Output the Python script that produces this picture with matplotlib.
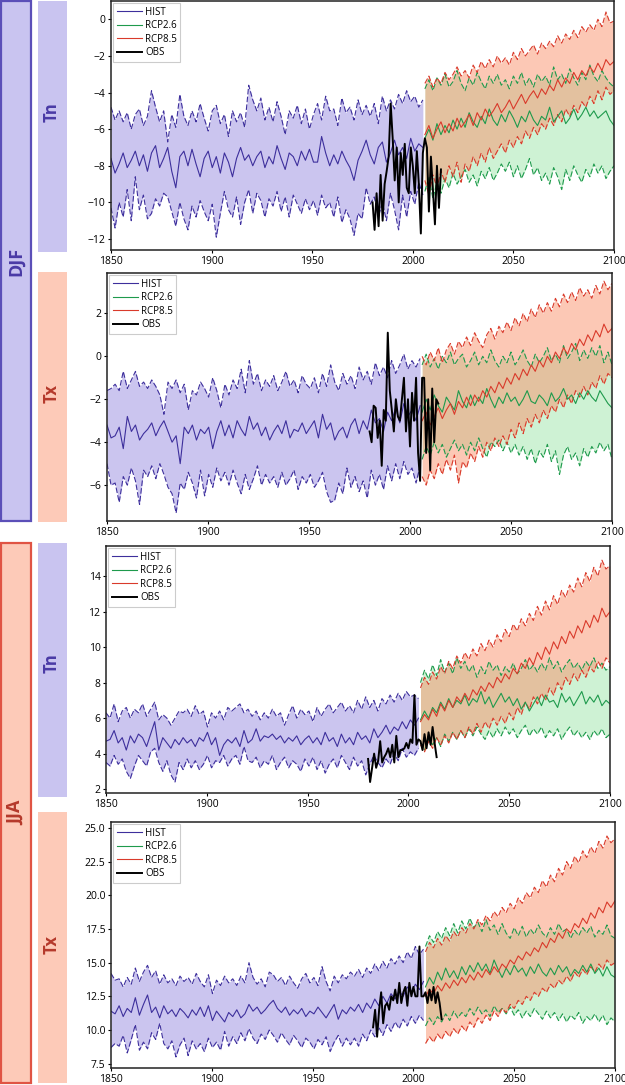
import numpy as np
import matplotlib.pyplot as plt
from matplotlib.patches import Rectangle

plt.rcParams['font.family'] = ['Open Sans', 'DejaVu Sans']

# ---------------- data (HIST / RCP every ~2 years, OBS yearly) ----------------
# panel 1: DJF Tn
djf_tn_hist_mean = [-7.6, -8.4, -7.9, -7.3, -8.1, -7.7, -7.2, -8.0, -7.4, -8.3,
                    -7.3, -6.9, -8.1, -7.6, -7.0, -8.3, -9.2, -7.5, -7.2, -8.0,
                    -7.1, -7.9, -8.6, -7.6, -7.2, -8.1, -7.5, -8.4, -7.3, -7.8,
                    -8.6, -7.6, -7.0, -7.7, -7.4, -8.0, -7.5, -7.2, -8.1, -7.5,
                    -7.9, -6.9, -7.6, -8.2, -7.3, -7.5, -8.0, -7.2, -7.7, -7.1,
                    -7.8, -7.8, -6.4, -7.3, -8.0, -7.4, -7.9, -7.2, -7.7, -8.1,
                    -8.8, -7.7, -7.2, -6.6, -7.4, -7.9, -7.0, -6.7, -7.8, -7.3,
                    -6.6, -7.4, -7.0, -7.6, -6.5, -7.2, -6.8, -7.0]
djf_tn_hist_hi = [-4.8, -5.5, -5.0, -5.6, -5.1, -6.0, -5.2, -4.9, -5.8, -5.3,
                  -3.9, -4.8, -5.6, -5.0, -6.7, -5.2, -5.9, -4.1, -5.3, -5.8,
                  -5.0, -5.6, -4.6, -5.4, -6.1, -5.0, -4.7, -5.7, -5.2, -6.4,
                  -5.0, -5.6, -5.1, -5.9, -3.6, -4.4, -5.0, -4.3, -5.5, -4.8,
                  -5.6, -4.5, -5.3, -6.3, -5.0, -5.4, -4.7, -5.7, -4.9, -6.0,
                  -5.2, -4.6, -5.5, -4.2, -5.0, -4.9, -5.8, -4.3, -5.1, -4.8,
                  -5.5, -4.4, -5.2, -4.7, -5.3, -4.6, -5.7, -4.2, -5.0, -4.4,
                  -4.9, -4.1, -4.6, -3.9, -4.5, -4.2, -4.8, -4.4]
djf_tn_hist_lo = [-10.3, -11.4, -10.0, -10.8, -9.3, -11.0, -8.6, -10.4, -9.6, -10.9,
                  -10.6, -9.8, -10.2, -9.5, -9.7, -10.5, -11.3, -10.0, -10.9, -11.5,
                  -10.2, -10.8, -9.9, -10.5, -11.0, -10.1, -11.9, -10.6, -9.4, -10.4,
                  -10.8, -9.7, -11.2, -10.0, -9.3, -10.6, -9.5, -9.9, -10.8, -9.8,
                  -10.2, -9.4, -10.5, -9.7, -10.8, -9.6, -10.1, -10.6, -9.8, -10.4,
                  -9.9, -10.7, -9.6, -10.3, -10.0, -10.8, -9.7, -11.1, -10.4, -10.9,
                  -11.8, -10.6, -10.9, -9.2, -10.1, -9.7, -10.8, -10.0, -11.0, -9.5,
                  -10.4, -11.5, -9.6, -10.8, -9.4, -10.1, -8.9, -9.6]
djf_tn_r26_mean = [-6.5, -6.0, -6.6, -5.7, -6.3, -5.8, -6.2, -5.5, -6.0, -5.4,
                   -5.9, -5.1, -5.6, -5.9, -5.3, -5.7, -4.9, -5.5, -5.8, -5.2,
                   -5.6, -5.0, -5.4, -5.9, -5.3, -5.6, -5.0, -5.5, -5.8, -5.3,
                   -5.5, -4.8, -5.6, -5.3, -5.0, -5.7, -5.4, -4.9, -5.5, -5.2,
                   -4.8, -5.3, -5.0, -5.4, -5.2, -5.0, -5.5, -5.8]
djf_tn_r26_hi = [-3.8, -3.3, -3.9, -3.2, -3.6, -3.0, -3.7, -3.4, -2.8, -3.5,
                 -3.9, -3.2, -3.6, -2.9, -3.4, -3.8, -3.1, -3.5, -3.0, -3.6,
                 -3.3, -3.8, -3.1, -3.5, -2.9, -3.6, -3.2, -3.7, -3.0, -3.4,
                 -3.1, -3.6, -2.6, -3.3, -3.0, -3.5, -2.7, -3.2, -3.6, -2.9,
                 -3.3, -2.5, -3.1, -3.4, -2.8, -3.2, -3.5, -3.7]
djf_tn_r26_lo = [-9.4, -8.6, -9.8, -8.9, -9.5, -8.7, -9.2, -8.4, -9.0, -8.6,
                 -8.2, -8.9, -8.5, -9.1, -8.3, -8.7, -8.1, -8.8, -8.4, -7.9,
                 -8.3, -7.8, -8.6, -8.0, -8.7, -8.2, -7.6, -8.5, -8.1, -8.8,
                 -8.4, -9.0, -8.1, -8.6, -9.3, -8.2, -8.8, -8.0, -8.5, -8.9,
                 -8.2, -8.6, -7.9, -8.4, -8.0, -8.7, -8.3, -8.0]
djf_tn_r85_mean = [-6.3, -5.8, -6.5, -6.0, -5.6, -6.2, -5.7, -6.1, -5.4, -5.9,
                   -5.6, -5.2, -5.8, -5.1, -5.5, -4.9, -5.3, -5.0, -4.6, -5.1,
                   -4.8, -4.4, -4.9, -4.5, -4.1, -4.6, -4.2, -3.9, -4.3, -3.8,
                   -4.1, -3.6, -3.9, -3.3, -3.7, -3.2, -3.5, -2.9, -3.3, -2.8,
                   -3.1, -2.6, -2.9, -2.4, -2.8, -2.2, -2.5, -2.3]
djf_tn_r85_hi = [-3.5, -3.1, -3.7, -3.2, -3.5, -2.9, -3.3, -3.0, -2.6, -3.1,
                 -2.8, -3.2, -2.5, -2.9, -2.3, -2.7, -2.2, -2.6, -2.0, -2.4,
                 -2.1, -2.5, -1.8, -2.2, -1.6, -2.0, -1.7, -1.4, -1.9, -1.3,
                 -1.6, -1.2, -1.5, -0.9, -1.3, -0.8, -1.1, -0.6, -1.0, -0.4,
                 -0.7, -0.3, -0.6, 0.0, -0.4, 0.4, -0.2, -0.1]
djf_tn_r85_lo = [-8.8, -9.6, -8.5, -9.2, -8.3, -8.9, -8.0, -8.6, -7.8, -8.9,
                 -7.9, -8.3, -7.5, -8.0, -7.3, -7.8, -7.0, -7.6, -7.2, -6.8,
                 -7.3, -6.6, -7.0, -6.4, -6.8, -6.1, -6.5, -5.9, -6.3, -5.7,
                 -6.0, -5.4, -5.8, -5.2, -5.6, -4.9, -5.3, -4.7, -5.1, -4.5,
                 -4.8, -4.2, -4.6, -3.9, -4.4, -3.7, -4.1, -3.9]
djf_tn_obs = [-10.0, -11.5, -9.5, -11.3, -8.5, -11.0, -9.0, -8.3, -7.5, -4.6,
              -6.5, -8.8, -7.0, -10.0, -7.3, -8.5, -6.8, -9.2, -9.5, -7.0,
              -8.0, -9.5, -7.2, -9.0, -11.7, -7.3, -6.5, -7.0, -10.5, -7.5,
              -9.3, -11.2, -8.0, -10.3, -8.2]

# panel 2: DJF Tx
djf_tx_hist_mean = [-3.2, -3.8, -3.7, -3.3, -4.3, -2.8, -3.5, -3.2, -3.9, -3.6,
                    -3.4, -3.1, -3.7, -3.3, -3.0, -3.5, -4.0, -3.7, -5.0, -3.3,
                    -3.6, -3.2, -3.9, -3.4, -3.6, -3.3, -4.3, -3.5, -3.0, -3.7,
                    -3.2, -3.8, -3.0, -3.4, -3.7, -2.8, -3.4, -3.1, -3.7, -3.3,
                    -3.9, -3.5, -3.2, -3.6, -3.0, -3.8, -3.4, -3.5, -3.1, -3.6,
                    -3.3, -3.0, -3.8, -2.7, -3.4, -3.1, -3.9, -3.5, -3.3, -3.8,
                    -3.2, -2.9, -3.6, -3.0, -3.4, -2.5, -3.1, -2.9, -3.5, -2.6,
                    -3.0, -2.4, -3.1, -2.2, -2.8, -2.5, -3.0, -2.3]
djf_tx_hist_hi = [-1.6, -1.5, -1.3, -1.6, -0.7, -1.5, -1.1, -0.7, -1.4, -1.2,
                  -1.5, -1.1, -1.4, -1.8, -2.7, -1.2, -1.5, -1.1, -1.7, -1.3,
                  -2.5, -1.6, -1.8, -1.2, -1.5, -1.9, -1.0, -1.6, -2.4, -1.3,
                  -1.8, -1.1, -1.5, -0.6, -1.7, -0.2, -1.3, -0.8, -1.6, -1.1,
                  -1.4, -0.9, -1.6, -1.2, -0.7, -1.4, -1.1, -1.7, -0.9, -1.3,
                  -1.5, -1.0, -1.7, -0.8, -1.4, -0.4, -1.2, -1.6, -0.8, -1.3,
                  -0.9, -1.5, -0.5, -1.1, -0.7, -1.3, -0.3, -0.9, -0.5, -1.0,
                  -0.2, -0.8, -0.4, 0.1, -0.6, -0.2, -0.5, -0.1]
djf_tx_hist_lo = [-5.0, -6.0, -5.9, -6.8, -5.6, -6.0, -5.2, -5.8, -6.9, -5.3,
                  -5.6, -5.1, -5.7, -5.0, -5.5, -6.1, -6.4, -7.3, -5.9, -6.2,
                  -5.4, -5.9, -6.6, -5.3, -6.5, -5.5, -6.1, -5.2, -5.8, -5.4,
                  -6.0, -5.3, -5.9, -6.4, -5.5, -6.2, -5.7, -5.1, -6.0, -5.5,
                  -5.9, -5.6, -6.1, -5.4, -6.0, -5.7, -5.3, -6.2, -5.6, -5.9,
                  -5.5, -6.1, -5.8, -5.4, -6.3, -6.8, -6.7, -5.9, -6.4, -5.2,
                  -6.1, -5.6, -6.3, -5.8, -6.6, -5.3, -6.0, -5.5, -6.2, -5.1,
                  -5.8, -5.0, -5.7, -4.9, -5.5, -5.2, -5.9, -5.1]
djf_tx_r26_mean = [-2.6, -2.0, -2.5, -1.8, -2.3, -2.6, -1.9, -2.2, -2.5, -1.6,
                   -2.1, -2.4, -1.8, -2.3, -1.9, -2.2, -1.5, -2.0, -2.4, -1.9,
                   -2.2, -1.7, -2.1, -1.9, -2.3, -2.0, -1.6, -2.1, -2.2, -1.8,
                   -2.0, -2.3, -1.7, -2.1, -1.9, -1.5, -2.0, -1.8, -2.2, -1.7,
                   -2.0, -1.6, -1.9, -2.1, -1.6, -1.9, -2.2, -2.4]
djf_tx_r26_hi = [-0.4, 0.1, -0.5, -0.1, -0.6, 0.0, -0.3, 0.2, -0.4, -0.1,
                 0.1, -0.5, -0.2, 0.2, -0.4, 0.0, -0.3, 0.3, -0.2, -0.5,
                 0.0, -0.3, 0.2, -0.4, -0.1, 0.3, -0.2, -0.5, 0.1, -0.3,
                 0.0, 0.4, -0.2, 0.1, -0.3, 0.5, -0.1, 0.2, 0.6, -0.2,
                 0.3, -0.1, 0.4, 0.0, 0.5, -0.3, 0.2, -0.4]
djf_tx_r26_lo = [-4.8, -4.2, -4.6, -4.0, -4.5, -4.1, -4.7, -4.3, -3.9, -4.4,
                 -4.1, -4.6, -4.0, -4.4, -3.8, -4.3, -4.7, -4.0, -4.2, -3.9,
                 -4.4, -4.0, -4.5, -4.1, -4.6, -4.2, -4.8, -4.3, -5.0, -4.4,
                 -4.7, -4.1, -4.9, -4.4, -5.5, -4.6, -4.2, -4.8, -4.5, -5.1,
                 -4.3, -4.7, -4.2, -4.5, -4.0, -4.4, -4.1, -4.8]
djf_tx_r85_mean = [-3.0, -2.6, -3.2, -2.8, -2.4, -2.9, -2.5, -2.2, -2.7, -2.1,
                   -2.4, -1.9, -2.3, -1.8, -2.1, -1.6, -1.9, -1.4, -1.7, -1.2,
                   -1.5, -1.0, -1.3, -0.8, -1.1, -0.6, -0.9, -0.4, -0.7, -0.2,
                   -0.5, 0.0, -0.3, 0.2, -0.1, 0.4, 0.1, 0.6, 0.3, 0.8,
                   0.5, 1.0, 0.7, 1.2, 0.9, 1.5, 1.1, 1.3]
djf_tx_r85_hi = [0.0, -0.4, 0.2, -0.2, 0.4, -0.3, 0.3, 0.6, 0.1, 0.7,
                 0.4, 0.9, 0.5, 1.1, 0.7, 0.4, 1.0, 1.3, 0.8, 1.4,
                 1.1, 1.6, 1.2, 1.8, 1.4, 2.0, 1.6, 2.2, 1.8, 2.4,
                 2.0, 2.5, 2.1, 2.7, 2.3, 2.9, 2.5, 3.0, 2.6, 3.2,
                 2.8, 3.1, 2.7, 3.3, 2.9, 3.5, 3.1, 3.4]
djf_tx_r85_lo = [-5.6, -6.0, -5.3, -5.7, -5.0, -5.5, -4.8, -5.3, -4.6, -5.9,
                 -4.9, -5.2, -4.5, -4.9, -4.2, -4.7, -4.0, -4.4, -3.8, -4.2,
                 -3.7, -4.1, -3.4, -3.8, -3.1, -3.6, -2.9, -3.3, -2.7, -3.1,
                 -2.5, -2.9, -2.3, -2.6, -2.0, -2.4, -1.8, -2.2, -1.6, -1.9,
                 -1.4, -1.8, -1.2, -1.5, -0.9, -1.3, -0.8, -1.0]
djf_tx_obs = [-3.5, -4.0, -2.3, -2.4, -3.8, -3.0, -5.1, -2.5, -3.0, 1.1,
              -1.6, -2.5, -3.5, -2.0, -2.8, -3.0, -2.0, -1.0, -3.5, -2.0,
              -4.2, -1.7, -3.0, -1.0, -4.5, -5.8, -1.0, -1.0, -4.5, -2.0,
              -5.3, -1.5, -4.0, -2.0, -2.2]

# panel 3: JJA Tn
jja_tn_hist_mean = [4.7, 4.8, 5.3, 4.6, 4.9, 4.2, 5.0, 4.6, 5.1, 4.9,
                    4.4, 5.1, 5.8, 4.2, 4.9, 4.6, 4.3, 4.8, 4.5, 4.9,
                    4.6, 4.8, 4.4, 4.9, 4.7, 5.2, 4.5, 4.9, 3.9, 4.5,
                    4.8, 4.6, 4.9, 4.4, 5.3, 4.6, 4.8, 5.4, 4.7, 5.0,
                    4.9, 5.1, 4.8, 5.0, 4.6, 4.9, 4.7, 5.0, 4.5, 4.8,
                    5.0, 4.6, 4.9, 4.5, 5.2, 4.7, 4.9, 4.4, 5.1, 4.6,
                    4.9, 4.5, 5.2, 4.8, 5.0, 4.6, 5.4, 4.9, 5.2, 5.6,
                    5.1, 5.5, 5.3, 5.8, 5.4, 5.9, 5.6, 6.0]
jja_tn_hist_hi = [6.3, 6.0, 6.8, 5.8, 6.4, 6.6, 6.0, 6.5, 6.3, 6.8,
                  6.1, 6.5, 6.9, 5.9, 6.2, 6.0, 5.6, 6.0, 6.4, 6.3,
                  6.5, 6.1, 6.7, 6.2, 6.4, 5.5, 6.3, 6.0, 6.4, 5.9,
                  6.6, 6.4, 6.6, 6.8, 6.3, 6.5, 6.1, 6.4, 5.9, 6.3,
                  6.0, 6.5, 6.1, 6.3, 5.6, 6.2, 6.7, 6.0, 6.5, 6.2,
                  6.4, 5.8, 6.6, 6.1, 6.5, 6.8, 6.3, 6.6, 6.9, 6.4,
                  6.7, 6.3, 7.0, 6.5, 7.2, 6.6, 7.0, 6.4, 7.1, 6.8,
                  7.3, 6.9, 7.4, 7.0, 7.5, 7.2, 7.3, 7.1]
jja_tn_hist_lo = [3.5, 3.3, 3.9, 3.4, 3.7, 3.0, 2.6, 3.3, 3.9, 3.6,
                  3.3, 4.1, 4.3, 3.5, 3.0, 3.6, 2.8, 2.4, 3.5, 3.1,
                  3.7, 3.2, 3.6, 3.1, 3.4, 3.9, 3.2, 3.6, 3.5, 3.9,
                  3.3, 3.7, 3.9, 3.4, 4.4, 3.6, 3.5, 3.8, 3.2, 3.6,
                  3.4, 3.9, 3.1, 3.5, 3.8, 3.2, 3.6, 3.4, 3.0, 3.7,
                  3.3, 3.8, 3.1, 3.6, 2.9, 3.4, 3.7, 3.2, 3.9, 3.5,
                  3.1, 3.8, 3.3, 3.6, 2.8, 3.4, 3.9, 3.5, 3.2, 3.7,
                  3.4, 4.0, 3.6, 4.3, 3.8, 4.1, 3.9, 4.3]
jja_tn_r26_mean = [5.9, 6.4, 6.0, 6.6, 6.3, 6.9, 6.5, 7.1, 6.6, 7.0,
                   6.8, 7.3, 6.7, 7.1, 6.9, 7.5, 6.8, 7.2, 6.6, 7.0,
                   7.4, 6.9, 7.2, 6.7, 7.1, 6.5, 6.9, 6.4, 6.8, 7.2,
                   6.7, 7.3, 6.9, 7.0, 6.6, 7.4, 6.9, 7.2, 6.7, 7.1,
                   7.5, 6.8, 7.2, 6.9, 7.3, 6.7, 7.0, 6.8]
jja_tn_r26_hi = [8.0, 8.7, 8.2, 9.0, 8.4, 9.3, 8.6, 9.1, 8.5, 9.4,
                 8.8, 9.2, 8.6, 9.0, 8.3, 8.9, 8.5, 9.2, 8.7, 9.0,
                 8.4, 8.9, 8.6, 9.1, 8.5, 8.8, 9.3, 8.7, 9.0, 8.6,
                 9.1, 8.7, 9.4, 8.8, 9.2, 8.6, 9.0, 9.3, 8.8, 9.1,
                 8.7, 9.2, 8.9, 9.4, 8.8, 9.1, 8.7, 8.9]
jja_tn_r26_lo = [4.6, 4.2, 4.8, 4.5, 4.9, 4.4, 5.1, 4.7, 5.2, 4.8,
                 5.3, 4.9, 5.4, 5.0, 5.5, 5.1, 4.8, 5.3, 4.9, 5.4,
                 5.0, 5.5, 5.1, 5.4, 4.9, 5.3, 5.6, 5.0, 5.4, 5.1,
                 5.5, 4.9, 5.3, 5.0, 5.4, 4.8, 5.2, 5.5, 5.0, 5.3,
                 4.9, 5.2, 4.8, 5.3, 5.0, 5.4, 4.9, 5.1]
jja_tn_r85_mean = [5.8, 6.2, 5.9, 6.5, 6.1, 6.8, 6.4, 7.0, 6.6, 7.2,
                   6.9, 7.4, 7.0, 7.6, 7.3, 7.8, 7.5, 8.0, 7.7, 8.3,
                   8.0, 8.5, 8.2, 8.8, 8.5, 9.1, 8.8, 9.4, 9.0, 9.7,
                   9.3, 10.0, 9.6, 10.3, 9.9, 10.6, 10.2, 10.9, 10.5, 11.2,
                   10.8, 11.5, 11.1, 11.8, 11.4, 12.2, 11.7, 12.0]
jja_tn_r85_hi = [7.7, 8.3, 7.9, 8.6, 8.2, 8.9, 8.5, 9.2, 8.8, 9.5,
                 9.1, 9.7, 9.3, 9.9, 9.5, 10.2, 9.8, 10.4, 10.0, 10.7,
                 10.3, 11.0, 10.6, 11.3, 10.9, 11.6, 11.2, 11.9, 11.5, 12.3,
                 11.8, 12.6, 12.1, 12.9, 12.4, 13.2, 12.8, 13.5, 13.1, 13.9,
                 13.4, 14.2, 13.7, 14.5, 14.0, 14.9, 14.4, 14.6]
jja_tn_r85_lo = [4.5, 4.1, 4.7, 4.3, 4.9, 4.5, 5.0, 4.6, 5.2, 4.8,
                 5.3, 4.9, 5.5, 5.1, 5.7, 5.2, 5.8, 5.4, 6.0, 5.6,
                 6.1, 5.7, 6.3, 5.9, 6.6, 6.2, 6.9, 6.5, 7.2, 6.8,
                 7.4, 7.0, 7.7, 7.3, 8.0, 7.6, 8.3, 7.9, 8.5, 8.1,
                 8.7, 8.3, 8.9, 8.6, 9.2, 8.8, 9.4, 9.1]
jja_tn_obs = [3.7, 2.4, 3.2, 4.0, 3.2, 3.6, 4.7, 3.5, 3.8, 4.0,
              4.3, 3.8, 4.5, 3.5, 5.0, 3.8, 4.2, 4.2, 4.3, 4.6,
              4.3, 4.8, 4.6, 7.3, 4.5, 4.8, 4.7, 4.2, 5.1, 4.3,
              5.2, 4.5, 5.5, 4.6, 3.8]

# panel 4: JJA Tx
jja_tx_hist_mean = [11.4, 11.2, 11.8, 11.0, 11.6, 11.3, 12.4, 11.1, 11.9, 12.6,
                    11.3, 11.7, 10.9, 11.8, 11.2, 11.5, 11.0, 11.6, 11.3, 10.9,
                    11.5, 11.1, 11.7, 11.0, 11.8, 10.7, 11.4, 11.0, 10.6, 11.3,
                    11.0, 11.5, 10.9, 11.2, 11.9, 11.4, 11.7, 11.2, 11.5, 11.9,
                    12.2, 11.6, 11.3, 11.7, 11.1, 11.5, 11.2, 11.6, 11.0, 11.4,
                    11.2, 11.7, 11.3, 10.9, 11.4, 11.9, 10.8, 11.5, 11.2, 11.7,
                    11.4, 11.9, 11.3, 12.0, 11.6, 12.3, 11.8, 12.5, 12.0, 12.7,
                    12.3, 12.9, 12.5, 13.2, 12.8, 13.4, 13.0, 13.6]
jja_tx_hist_hi = [14.2, 13.7, 13.8, 13.2, 13.9, 13.4, 14.6, 13.6, 14.3, 14.8,
                  13.9, 14.4, 13.4, 14.1, 13.5, 13.8, 13.3, 14.0, 13.6, 13.9,
                  13.4, 14.2, 13.6, 13.2, 14.1, 12.7, 13.7, 13.3, 14.0, 13.5,
                  13.8, 13.3, 14.0, 13.5, 15.0, 13.9, 13.4, 13.8, 13.2, 14.3,
                  14.1, 13.6, 13.9, 13.3, 14.0, 13.5, 13.1, 13.8, 14.2, 13.5,
                  13.9, 13.3, 14.7, 13.6, 12.9, 14.0, 13.5, 14.1, 13.8, 14.3,
                  14.0, 14.5, 13.9, 14.6, 14.2, 14.9, 14.4, 15.1, 14.6, 15.3,
                  14.9, 15.5, 15.0, 15.8, 15.3, 16.2, 15.6, 16.0]
jja_tx_hist_lo = [8.7, 9.0, 8.8, 9.6, 8.3, 9.3, 10.4, 8.5, 9.1, 8.6,
                  9.8, 9.3, 10.5, 9.0, 8.6, 9.2, 8.0, 8.9, 9.4, 8.1,
                  9.2, 8.6, 9.0, 8.4, 9.4, 8.7, 9.1, 8.5, 9.9, 8.8,
                  9.5, 9.0, 9.8, 9.2, 10.1, 9.4, 9.0, 9.7, 9.3, 10.0,
                  9.6, 9.1, 9.8, 9.3, 8.9, 9.6, 9.2, 8.7, 9.4, 9.1,
                  8.6, 9.3, 8.9, 9.5, 8.4, 9.1, 9.6, 8.8, 9.4, 8.9,
                  9.4, 8.8, 9.7, 9.2, 10.0, 9.5, 10.2, 9.6, 10.4, 9.9,
                  10.6, 10.1, 10.8, 10.3, 11.0, 10.5, 11.1, 10.7]
jja_tx_r26_mean = [13.2, 13.9, 13.4, 14.3, 13.7, 14.6, 13.9, 14.4, 13.8, 14.7,
                   14.1, 14.8, 14.3, 15.0, 14.4, 14.9, 14.2, 15.2, 14.5, 13.9,
                   14.6, 14.1, 14.8, 14.3, 14.6, 14.0, 14.7, 14.2, 14.9, 14.3,
                   14.0, 14.6, 14.1, 14.8, 14.3, 14.7, 14.0, 14.5, 14.2, 14.8,
                   14.3, 14.9, 14.2, 14.6, 14.0, 14.7, 14.1, 13.9]
jja_tx_r26_hi = [16.2, 17.0, 16.5, 17.3, 16.8, 17.6, 17.0, 17.9, 17.2, 18.1,
                 17.5, 18.3, 17.6, 18.0, 17.3, 18.2, 17.4, 17.8, 17.1, 17.9,
                 17.2, 16.8, 17.6, 17.0, 17.7, 16.9, 17.5, 17.1, 17.8, 17.2,
                 16.9, 17.6, 17.1, 17.9, 17.3, 17.5, 16.8, 17.4, 17.0, 17.6,
                 17.2, 17.7, 16.9, 17.4, 17.1, 17.8, 17.0, 16.8]
jja_tx_r26_lo = [10.3, 10.9, 10.4, 11.0, 10.6, 11.2, 10.7, 11.4, 10.9, 11.3,
                 11.0, 11.6, 11.1, 11.7, 11.2, 11.5, 11.0, 11.8, 11.3, 11.6,
                 11.2, 11.7, 11.1, 11.5, 10.9, 11.4, 11.0, 11.6, 11.2, 10.8,
                 11.4, 10.9, 11.3, 10.7, 11.2, 10.6, 11.1, 10.8, 11.3, 10.5,
                 11.0, 10.7, 11.2, 10.6, 11.1, 10.4, 10.9, 10.6]
jja_tx_r85_mean = [12.5, 13.0, 12.7, 13.3, 12.9, 13.5, 13.1, 13.7, 13.3, 13.9,
                   13.5, 14.1, 13.7, 14.3, 13.9, 14.5, 14.1, 14.7, 14.3, 14.9,
                   14.6, 15.2, 14.9, 15.5, 15.2, 15.8, 15.5, 16.1, 15.8, 16.5,
                   16.1, 16.8, 16.5, 17.2, 16.8, 17.5, 17.2, 17.9, 17.6, 18.3,
                   17.9, 18.7, 18.3, 19.1, 18.7, 19.5, 19.1, 19.6]
jja_tx_r85_hi = [15.8, 16.5, 16.1, 16.8, 16.3, 17.0, 16.6, 17.3, 16.9, 17.6,
                 17.2, 17.9, 17.5, 18.2, 17.8, 18.5, 18.1, 18.8, 18.4, 19.1,
                 18.7, 19.4, 19.0, 19.8, 19.4, 20.2, 19.8, 20.6, 20.2, 21.1,
                 20.6, 21.5, 21.0, 22.0, 21.5, 22.5, 22.0, 22.9, 22.4, 23.3,
                 22.8, 23.6, 23.1, 24.0, 23.5, 24.4, 23.9, 24.2]
jja_tx_r85_lo = [9.0, 9.5, 9.1, 9.7, 9.3, 9.9, 9.5, 10.1, 9.7, 10.3,
                 9.9, 10.6, 10.2, 10.9, 10.5, 11.1, 10.7, 11.4, 11.0, 11.6,
                 11.3, 11.9, 11.6, 12.2, 11.9, 12.5, 12.2, 12.8, 12.5, 13.1,
                 12.8, 13.4, 13.1, 13.7, 13.4, 14.0, 13.6, 14.3, 13.9, 14.5,
                 14.1, 14.7, 14.3, 14.9, 14.5, 15.2, 14.8, 15.0]
jja_tx_obs = [10.2, 11.5, 9.5, 11.5, 12.8, 10.5, 11.8, 12.0, 11.5, 12.5,
              12.2, 13.0, 12.0, 13.5, 12.0, 12.8, 13.2, 11.8, 13.5, 12.5,
              13.2, 12.5, 12.5, 16.2, 12.5, 12.5, 12.8, 12.0, 13.0, 12.2,
              13.2, 12.0, 12.8, 12.0, 10.8]

yticks_list = [np.arange(-12, 1, 2), np.arange(-6, 3, 2),
               np.arange(2, 15, 2), np.arange(7.5, 25.1, 2.5)]
ylims = [(-12.6, 1.0), (-7.67, 3.88), (1.78, 15.7), (7.18, 25.44)]

# ---------------- figure ----------------
W, H = 625, 1085
fig = plt.figure(figsize=(W / 100, H / 100), dpi=100)


def px_axes(l, t, r, b):
    return fig.add_axes([l / W, 1 - b / H, (r - l) / W, (b - t) / H])


def px_rect(l, t, r, b, fc, ec='none', lw=0):
    rect = Rectangle((l / W, 1 - b / H), (r - l) / W, (b - t) / H,
                     transform=fig.transFigure, facecolor=fc, edgecolor=ec, linewidth=lw)
    fig.add_artist(rect)


hist_col = '#3d2f9c'
hist_fill = '#cbc5ef'
g_col = '#1e9a4c'
g_fill = (0.55, 0.88, 0.6, 0.42)
r_col = '#d93a2b'
r_fill = (0.98, 0.55, 0.40, 0.48)

panels = [
    (djf_tn_hist_mean, djf_tn_hist_lo, djf_tn_hist_hi, djf_tn_r26_mean, djf_tn_r26_lo, djf_tn_r26_hi,
     djf_tn_r85_mean, djf_tn_r85_lo, djf_tn_r85_hi, djf_tn_obs),
    (djf_tx_hist_mean, djf_tx_hist_lo, djf_tx_hist_hi, djf_tx_r26_mean, djf_tx_r26_lo, djf_tx_r26_hi,
     djf_tx_r85_mean, djf_tx_r85_lo, djf_tx_r85_hi, djf_tx_obs),
    (jja_tn_hist_mean, jja_tn_hist_lo, jja_tn_hist_hi, jja_tn_r26_mean, jja_tn_r26_lo, jja_tn_r26_hi,
     jja_tn_r85_mean, jja_tn_r85_lo, jja_tn_r85_hi, jja_tn_obs),
    (jja_tx_hist_mean, jja_tx_hist_lo, jja_tx_hist_hi, jja_tx_r26_mean, jja_tx_r26_lo, jja_tx_r26_hi,
     jja_tx_r85_mean, jja_tx_r85_lo, jja_tx_r85_hi, jja_tx_obs),
]
boxes = [(111, 1, 614, 250), (107, 273, 612, 521), (106, 546, 610, 793), (111, 822, 615, 1068)]

dash = (0, (5, 2))
for k, (hm, hl, hh, gm, gl, gh, rm, rl, rh, obs) in enumerate(panels):
    ax = px_axes(*boxes[k])
    yh = np.linspace(1850, 2005, len(hm))
    yr = np.linspace(2006, 2100, len(gm))
    yo = np.arange(1980, 1980 + len(obs))

    ax.fill_between(yh, hl, hh, color=hist_fill, lw=0)
    ax.fill_between(yr, gl, gh, color=g_fill, lw=0)
    ax.fill_between(yr, rl, rh, color=r_fill, lw=0)

    ax.plot(yh, hh, color=hist_col, lw=0.8, ls=dash)
    ax.plot(yh, hl, color=hist_col, lw=0.8, ls=dash)
    ax.plot(yr, gh, color=g_col, lw=0.8, ls=dash)
    ax.plot(yr, gl, color=g_col, lw=0.8, ls=dash)
    ax.plot(yr, rh, color=r_col, lw=0.8, ls=dash)
    ax.plot(yr, rl, color=r_col, lw=0.8, ls=dash)

    l1, = ax.plot(yh, hm, color=hist_col, lw=0.8, label='HIST')
    l2, = ax.plot(yr, gm, color=g_col, lw=0.8, label='RCP2.6')
    l3, = ax.plot(yr, rm, color=r_col, lw=0.8, label='RCP8.5')
    l4, = ax.plot(yo, obs, color='black', lw=1.4, label='OBS')

    ax.set_xlim(1850, 2100)
    ax.set_ylim(*ylims[k])
    ax.set_xticks([1850, 1900, 1950, 2000, 2050, 2100])
    ax.set_yticks(yticks_list[k])
    if k == 3:
        ax.set_yticklabels([f'{v:.1f}' for v in yticks_list[k]])
    ax.tick_params(labelsize=7.5, length=2.5, width=0.8, pad=1.5)
    for s in ax.spines.values():
        s.set_linewidth(1.1)
        s.set_color('#222222')
    leg = ax.legend(handles=[l1, l2, l3, l4], loc='upper left', fontsize=7,
                    handlelength=2.6, handletextpad=0.3, labelspacing=0.25,
                    borderpad=0.35, borderaxespad=0.25, fancybox=False, framealpha=1)
    leg.get_frame().set_edgecolor('#cccccc')
    leg.get_frame().set_linewidth(0.8)

# ---------------- label boxes on the left ----------------
purple_fill = '#c9c4f0'
salmon_fill = '#fdcab8'
purple_txt = '#4a3aa6'
red_txt = '#b5392b'

px_rect(1, 1, 31, 521, purple_fill, '#5b4fb8', 1.6)
px_rect(1, 543, 31, 1083, salmon_fill, '#e05444', 1.6)
px_rect(38, 1, 67, 252, purple_fill)
px_rect(38, 272, 67, 522, salmon_fill)
px_rect(38, 543, 67, 797, purple_fill)
px_rect(38, 812, 67, 1083, salmon_fill)

fig.text(16 / W, 1 - 261 / H, 'DJF', rotation=90, ha='center', va='center',
         fontsize=13, fontweight='bold', color=purple_txt)
fig.text(16 / W, 1 - 813 / H, 'JJA', rotation=90, ha='center', va='center',
         fontsize=13, fontweight='bold', color=red_txt)
fig.text(52 / W, 1 - 112 / H, 'Tn', rotation=90, ha='center', va='center',
         fontsize=12, fontweight='bold', color=purple_txt)
fig.text(52 / W, 1 - 393 / H, 'Tx', rotation=90, ha='center', va='center',
         fontsize=12, fontweight='bold', color=red_txt)
fig.text(52 / W, 1 - 663 / H, 'Tn', rotation=90, ha='center', va='center',
         fontsize=12, fontweight='bold', color=purple_txt)
fig.text(52 / W, 1 - 945 / H, 'Tx', rotation=90, ha='center', va='center',
         fontsize=12, fontweight='bold', color=red_txt)

fig.savefig('out.png', dpi=100)
